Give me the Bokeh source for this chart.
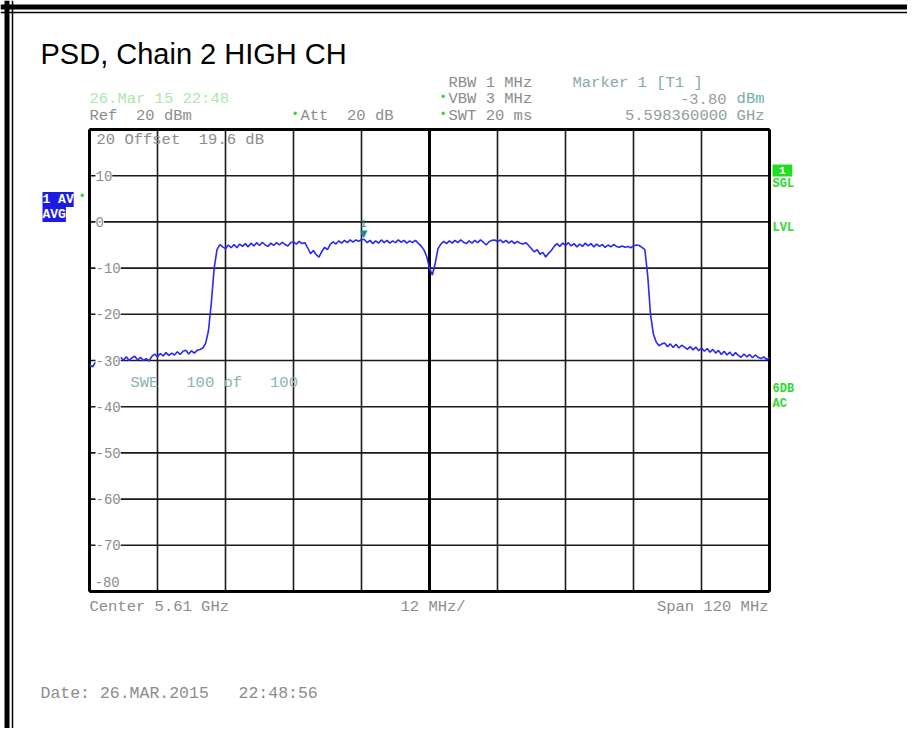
import numpy as np
from bokeh.plotting import figure
from bokeh.models import Label, Range1d
from bokeh.embed import file_html
from bokeh.resources import INLINE

# ---------------- data ----------------
title_text = "PSD, Chain 2 HIGH CH"
freq_ticks_mhz = [5550, 5562, 5574, 5586, 5598, 5610, 5622, 5634, 5646, 5658, 5670]
level_ticks_db = [20, 10, 0, -10, -20, -30, -40, -50, -60, -70, -80]
marker_freq_ghz = 5.59836
marker_level_dbm = -3.80
ref_level_text = "Ref  20 dBm"
att_text = "Att  20 dB"
offset_text = "Offset  19.6 dB"
rbw_text = "RBW 1 MHz"
vbw_text = "VBW 3 MHz"
swt_text = "SWT 20 ms"
sweep_text = "SWE   100 of   100"
date_text = "Date: 26.MAR.2015   22:48:56"
screen_stamp = "26.Mar 15 22:48"

# trace levels (dBm), sweep points evenly spaced over the span, 0.5 MHz apart
levels_dbm = [
    -30.9, -31.4, -30.5, -30.1, -30.6, -29.8, -30.3, -29.5, -30.1, -29.4,   # 5550.0
    -30.0, -29.3, -29.9, -29.2, -30.0, -29.4, -29.1, -29.9, -29.3, -30.0,   # 5555.0
    -29.6, -30.1, -29.1, -28.6, -29.2, -28.5, -29.0, -28.3, -28.9, -28.4,   # 5560.0
    -28.8, -28.1, -28.7, -28.0, -27.8, -28.6, -27.9, -28.4, -27.8, -27.6,   # 5565.0
    -27.3, -26.3, -23.5, -17.5, -10.0, -6.0, -4.9, -5.4, -5.8, -5.0,        # 5570.0
    -5.6, -4.9, -5.6, -4.8, -5.3, -4.7, -5.4, -4.6, -5.2, -4.5,             # 5575.0
    -5.1, -4.4, -5.0, -5.3, -4.6, -5.1, -4.5, -5.0, -4.4, -4.9,             # 5580.0
    -5.2, -4.5, -4.3, -4.8, -4.2, -4.7, -4.5, -5.6, -6.9, -6.2,             # 5585.0
    -7.1, -7.6, -6.4, -5.5, -6.0, -4.8, -4.3, -4.8, -4.1, -4.6,             # 5590.0
    -4.0, -4.5, -3.9, -4.4, -3.9, -4.2, -3.8, -3.8, -4.5, -4.0,             # 5595.0
    -4.7, -4.1, -4.6, -3.9, -4.5, -4.0, -4.6, -4.1, -4.5, -3.9,             # 5600.0
    -4.4, -4.0, -4.6, -4.1, -4.5, -4.0, -4.6, -5.2, -6.0, -7.5,             # 5605.0
    -10.0, -11.5, -9.0, -5.8, -4.8, -4.2, -4.7, -4.1, -4.6, -4.0,           # 5610.0
    -4.5, -3.9, -4.4, -4.7, -4.1, -4.6, -4.0, -4.5, -3.9, -4.4,             # 5615.0
    -5.0, -4.3, -4.0, -3.9, -4.3, -3.9, -4.5, -4.0, -4.6, -4.1,             # 5620.0
    -4.7, -4.2, -4.6, -4.8, -4.5, -5.1, -5.8, -6.5, -6.0, -7.0,             # 5625.0
    -6.6, -7.6, -6.8, -6.2, -5.3, -4.7, -5.3, -4.6, -5.1, -4.5,             # 5630.0
    -5.2, -4.7, -5.4, -4.8, -5.3, -4.6, -5.2, -4.7, -5.4, -4.8,             # 5635.0
    -5.3, -4.9, -5.5, -5.0, -5.4, -4.9, -5.3, -5.5, -5.2, -5.5,             # 5640.0
    -5.3, -5.6, -5.2, -5.0, -5.1, -5.5, -6.0, -11.5, -20.0, -24.2,          # 5645.0
    -26.0, -26.8, -26.4, -26.2, -27.0, -26.4, -27.2, -26.5, -27.3, -26.7,   # 5650.0
    -27.1, -27.6, -27.0, -27.7, -27.1, -27.9, -27.3, -28.0, -27.4, -28.2,   # 5655.0
    -27.6, -28.4, -27.8, -28.7, -28.0, -28.8, -28.2, -29.0, -28.3, -28.9,   # 5660.0
    -29.3, -28.6, -29.2, -28.7, -29.4, -28.8, -29.3, -29.6, -29.2, -29.8,   # 5665.0
    -29.4,                                                                   # 5670.0
]

# ---------------- layout ----------------
W, H = 907, 728
ORIGIN = 0  # screenshot pixel of the canvas' top-left corner
FRAME_L, FRAME_R, FRAME_T, FRAME_B = 89, 769, 129, 591  # grid frame, picture pixels

f_lo, f_hi = freq_ticks_mhz[0], freq_ticks_mhz[-1]
l_hi, l_lo = level_ticks_db[0], level_ticks_db[-1]
kx = (f_hi - f_lo) / (FRAME_R - FRAME_L)
ky = (l_hi - l_lo) / (FRAME_B - FRAME_T)
x_start = f_lo - (FRAME_L - ORIGIN) * kx
x_end = x_start + W * kx
y_end = l_hi + (FRAME_T - ORIGIN) * ky
y_start = y_end - H * ky


def X(px):
    return x_start + (px - ORIGIN) * kx


def Y(py):
    return y_end - (py - ORIGIN) * ky


def nb(s):
    # keep runs of spaces (SVG collapses ordinary whitespace)
    return s.replace(" ", "\u00a0")


freqs_mhz = np.linspace(f_lo, f_hi, len(levels_dbm))

p = figure(width=W, height=H, output_backend="svg", toolbar_location=None,
           x_range=Range1d(x_start, x_end), y_range=Range1d(y_start, y_end),
           x_axis_location=None, y_axis_location=None, title=None,
           min_border=0)
p.grid.visible = False
p.outline_line_color = None
p.background_fill_color = "white"
p.border_fill_color = "white"

# document borders (thick + thin rule on top and left)
p.segment(x0=[x_start, x_start, X(6.5), X(12)], y0=[Y(6.5), Y(12), y_start, y_start],
          x1=[x_end, x_end, X(6.5), X(12)], y1=[Y(6.5), Y(12), y_end, y_end],
          line_color="black", line_width=[5, 1.5, 5, 1.5])

# grid
GRID = "#1a1a1a"
p.segment(x0=freq_ticks_mhz, y0=[l_lo] * len(freq_ticks_mhz),
          x1=freq_ticks_mhz, y1=[l_hi] * len(freq_ticks_mhz),
          line_color=GRID, line_width=1.6)
p.segment(x0=[f_lo] * len(level_ticks_db), y0=level_ticks_db,
          x1=[f_hi] * len(level_ticks_db), y1=level_ticks_db,
          line_color=GRID, line_width=1.6)
f_mid = freq_ticks_mhz[len(freq_ticks_mhz) // 2]
thick_x = [f_lo, f_mid, f_hi]
p.segment(x0=thick_x, y0=[l_lo] * 3, x1=thick_x, y1=[l_hi] * 3,
          line_color="black", line_width=3)
p.segment(x0=[f_lo, f_lo], y0=[l_hi, l_lo], x1=[f_hi, f_hi], y1=[l_hi, l_lo],
          line_color="black", line_width=3)

MONO = "Liberation Mono"
GRAY = "#8c8c8c"
TEAL = "#86aaaa"
GREEN = "#2fd62f"


def lab(px, py, text, color=GRAY, size="15.5px", align="left", font=MONO,
        style="normal", bg=None, baseline="middle"):
    l = Label(x=X(px), y=Y(py), text=nb(text), text_font=font, text_font_size=size,
              text_color=color, text_align=align, text_baseline=baseline,
              text_font_style=style)
    if bg is not None:
        l.background_fill_color = bg
    p.add_layout(l)
    return l


# y tick labels inside the frame (white background over grid lines)
for lv in level_ticks_db[1:-1]:
    lab(95, FRAME_T + (l_hi - lv) / ky, f"{lv}", size="14px", bg="white")
lab(94, 581, f"{l_lo}", size="14px")
lab(96, 139, f"{l_hi} {offset_text}")

# trace
p.line(freqs_mhz, levels_dbm, line_color="#2a2af5", line_width=1.6)

# marker
m_f = marker_freq_ghz * 1000
p.add_layout(Label(x=m_f, y=marker_level_dbm, text="\u25bc", text_font="DejaVu Sans",
                   text_font_size="10px", text_color="#1b8c8c", text_align="center",
                   text_baseline="bottom"))
p.add_layout(Label(x=m_f, y=marker_level_dbm + 2.6, text="1", text_font=MONO,
                   text_font_size="10px", text_color="#1b8c8c", text_align="center",
                   text_baseline="bottom"))

# title
lab(40, 53, title_text, color="black", size="29px", font="Liberation Sans")

# header texts
lab(89, 98, screen_stamp, color="#ace8ac")
lab(89, 115, ref_level_text)
lab(291, 114, "\u2022", color=GREEN, size="12px")
lab(300, 115, att_text)
lab(448, 82, rbw_text)
lab(439, 97, "\u2022", color=GREEN, size="12px")
lab(448, 98, vbw_text)
lab(439, 114, "\u2022", color=GREEN, size="12px")
lab(448, 115, swt_text)
lab(572, 82, "Marker 1 [T1 ]", color=TEAL)
lab(726, 98, f"{marker_level_dbm:.2f}", color="#9a9a9a", align="right")
lab(764, 98, "dBm", color="#6fb0b0", align="right")
lab(764, 115, f"{marker_freq_ghz:.9f} GHz", color="#8fa0a0", align="right")

# left side trace info
lab(42, 199, "1 AV", color="white", size="13px", style="bold", bg="#1c1ce0")
lab(78, 196, "\u2022", color=GREEN, size="12px")
lab(42, 214, "AVG", color="white", size="13px", style="bold", bg="#1c1ce0")

# right side status
lab(772, 170, " 1 ", color="white", size="11px", style="bold", bg="#22dd22")
lab(772, 183, "SGL", color=GREEN, size="12px", style="bold")
lab(772, 227, "LVL", color=GREEN, size="12px", style="bold")
lab(772, 388, "6DB", color=GREEN, size="12px", style="bold")
lab(772, 403, "AC", color=GREEN, size="12px", style="bold")

# sweep count
lab(130, 382, sweep_text, color="#8ab2b2")

# bottom texts
center_ghz = f_mid / 1000
span_mhz = f_hi - f_lo
div_mhz = freq_ticks_mhz[1] - freq_ticks_mhz[0]
lab(89, 606, f"Center {center_ghz:g} GHz")
lab(400, 606, f"{div_mhz} MHz/")
lab(768, 606, f"Span {span_mhz} MHz", align="right")
lab(40, 693, date_text, size="16.5px")

open("out.html", "w").write(file_html(p, INLINE))
